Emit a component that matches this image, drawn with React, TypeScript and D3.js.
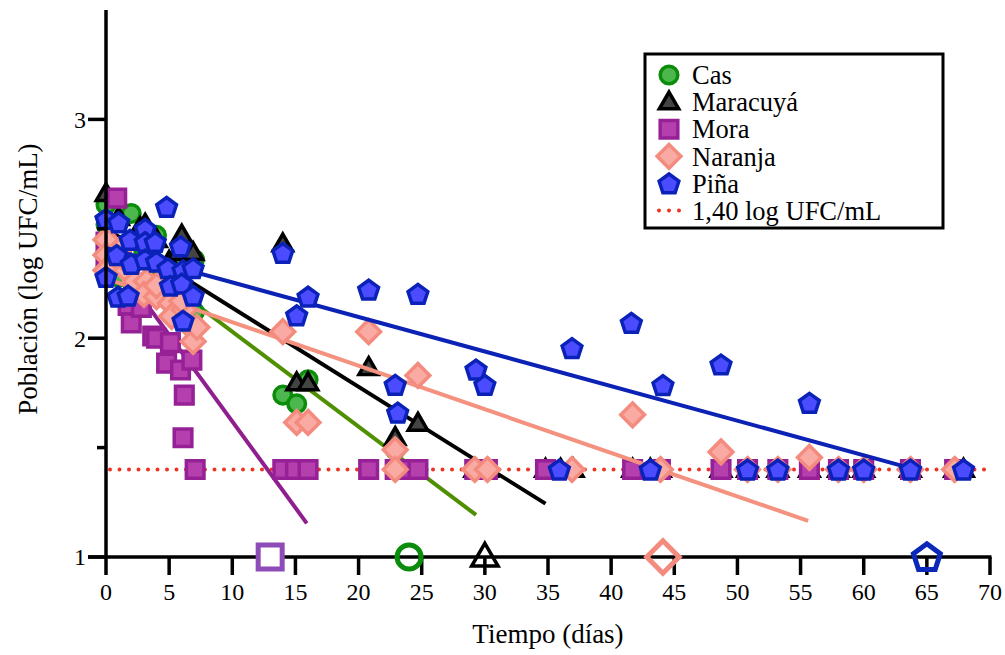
import { useEffect, useRef } from "react";
import * as d3 from "d3";

// series names (legend order)
const seriesNames = ["Cas", "Maracuyá", "Mora", "Naranja", "Piña"];

const casDays = [0, 0, 1, 2, 2, 3, 4, 5, 6, 7, 7, 14, 15.1, 16, 22.9, 23.8, 24.7, 29.2, 30.2];
const casVals = [2.61, 2.52, 2.28, 2.57, 2.26, 2.4, 2.47, 2.3, 2.36, 2.36, 2.12, 1.74, 1.7, 1.81, 1.49, 1.4, 1.4, 1.4, 1.4];

const maraDays = [0, 1, 2.7, 3.1, 4, 5, 5.7, 6, 6.9, 14, 15.1, 16, 20.8, 22.9, 24.7, 29.2, 30.2, 34.8, 36, 37, 41.7, 43.1, 43.9, 48.7, 50.8, 53.2, 55.7, 58, 60, 63.7, 67.2, 67.9];
const maraVals = [2.66, 2.55, 2.505, 2.52, 2.45, 2.35, 2.39, 2.47, 2.39, 2.43, 1.795, 1.795, 1.865, 1.545, 1.61, 1.4, 1.4, 1.4, 1.4, 1.4, 1.4, 1.4, 1.4, 1.4, 1.4, 1.4, 1.4, 1.4, 1.4, 1.4, 1.4, 1.4];

const moraDays = [0, 0, 0.85, 1, 1.75, 2, 2.8, 3.7, 4, 4.8, 5.1, 5.9, 6.1, 6.2, 6.8, 7.06, 14, 15, 16, 20.8, 22.9, 23.8, 24.7, 29.2, 30.2, 34.8, 41.7, 43.9, 48.7, 50.8, 53.2, 55.7, 58, 60, 63.7, 67.2];
const moraVals = [2.44, 2.35, 2.64, 2.4, 2.15, 2.07, 2.14, 2.01, 2.0, 1.886, 1.98, 1.855, 1.545, 1.74, 1.9, 1.4, 1.4, 1.4, 1.4, 1.4, 1.4, 1.4, 1.4, 1.4, 1.4, 1.4, 1.4, 1.4, 1.4, 1.4, 1.4, 1.4, 1.4, 1.4, 1.4, 1.4];

const naraDays = [0, 0, 0, 1, 1.6, 2, 2.3, 3.2, 3, 4, 4, 5.1, 5.2, 6.2, 6, 6.9, 6.9, 7.2, 14, 15.1, 16, 20.8, 22.9, 22.9, 24.7, 29.2, 30.2, 36.9, 41.7, 43.9, 48.7, 50.8, 53.2, 55.7, 58, 60, 63.7, 67.2];
const naraVals = [2.45, 2.38, 2.31, 2.4, 2.31, 2.33, 2.26, 2.26, 2.2, 2.19, 2.24, 2.16, 2.1, 2.13, 2.17, 2.04, 1.985, 2.05, 2.03, 1.615, 1.615, 2.03, 1.49, 1.4, 1.83, 1.4, 1.4, 1.4, 1.65, 1.4, 1.48, 1.4, 1.4, 1.455, 1.4, 1.4, 1.4, 1.4];

const pinaDays = [0, 0, 1, 0.85, 0.95, 1.9, 2, 1.75, 3.1, 3.1, 3.1, 3.9, 4, 4.8, 4.9, 5.1, 5.9, 6.1, 6, 6.1, 6.9, 6.9, 14, 15.1, 16, 20.8, 22.9, 23.1, 24.7, 29.3, 30, 35.9, 36.9, 41.6, 43.1, 44.1, 48.7, 50.8, 53.2, 55.7, 58, 60, 63.7, 67.9];
const pinaVals = [2.545, 2.28, 2.53, 2.38, 2.19, 2.45, 2.34, 2.195, 2.5, 2.44, 2.36, 2.44, 2.35, 2.6, 2.32, 2.24, 2.42, 2.31, 2.25, 2.08, 2.32, 2.195, 2.39, 2.105, 2.19, 2.222, 1.787, 1.66, 2.203, 1.857, 1.787, 1.4, 1.955, 2.07, 1.4, 1.786, 1.88, 1.4, 1.4, 1.705, 1.4, 1.4, 1.4, 1.4];

// linear fits: intercept, slope, last day of the line
const fitIntercept = [2.464, 2.5, 2.41, 2.272, 2.413];
const fitSlope = [-0.0434, -0.0361, -0.079, -0.0199, -0.0158];
const fitEnd = [29.3, 34.8, 15.9, 55.6, 63.2];

// estimated days to reach the limit (open markers on the x axis)
const shelfLife = [24.0, 30.0, 13.0, 44.1, 65.0];

const limitValue = 1.4;
const limitLabel = "1,40 log UFC/mL";
const xTicks = d3.range(0, 71, 5);
const yTicks = [1, 2, 3];
const yMinorTicks = [1.5, 2.5];

const allDays = [casDays, maraDays, moraDays, naraDays, pinaDays];
const allVals = [casVals, maraVals, moraVals, naraVals, pinaVals];

const shapes = ["circle", "triangle", "square", "diamond", "pentagon"];
const fills = ["#4cb74c", "#444444", "#b63fae", "#f9aaa2", "#4b4bff"];
const strokes = ["#0b8c0b", "#000000", "#962096", "#f48b7f", "#0b22b8"];
const lineColors = ["#4f8f00", "#000000", "#8f1f8f", "#f4917f", "#0b22b5"];
const openColors = ["#0b8c0b", "#000000", "#8e4cb8", "#f48b7f", "#0b28b8"];

const shapePath = (shape: string, r: number) => {
  if (shape === "circle") {
    return `M${-r},0A${r},${r} 0 1,0 ${r},0A${r},${r} 0 1,0 ${-r},0Z`;
  }
  if (shape === "square") return `M${-r},${-r}H${r}V${r}H${-r}Z`;
  if (shape === "diamond") {
    const d = r * 1.35;
    return `M0,${-d}L${d},0L0,${d}L${-d},0Z`;
  }
  if (shape === "triangle") {
    const h = r * 1.9;
    return `M0,${-h * 0.6}L${r * 1.1},${h * 0.4}L${-r * 1.1},${h * 0.4}Z`;
  }
  const pts = d3.range(5).map((i) => {
    const a = -Math.PI / 2 + (i * 2 * Math.PI) / 5;
    return [r * 1.18 * Math.cos(a), r * 1.18 * Math.sin(a) + 1];
  });
  return "M" + pts.map((p) => p.join(",")).join("L") + "Z";
};

const App = () => {
  const svgRef = useRef(null);

  useEffect(() => {
    const W = 1005;
    const H = 655;
    const FONT = "'Liberation Serif', 'Times New Roman', serif";

    const x = d3.scaleLinear().domain([0, 70]).range([106, 990]);
    const y = d3.scaleLinear().domain([1, 3.5]).range([557, 10]);

    const svg = d3.select(svgRef.current).attr("width", W).attr("height", H);
    svg.selectAll("*").remove();

    // limit line
    svg
      .append("line")
      .attr("x1", x(0) + 4)
      .attr("x2", x(70) - 4)
      .attr("y1", y(limitValue))
      .attr("y2", y(limitValue))
      .attr("stroke", "#ee3322")
      .attr("stroke-width", 4)
      .attr("stroke-linecap", "round")
      .attr("stroke-dasharray", "0 9.5");

    seriesNames.forEach((name, i) => {
      svg
        .append("line")
        .attr("x1", x(0))
        .attr("y1", y(fitIntercept[i]))
        .attr("x2", x(fitEnd[i]))
        .attr("y2", y(fitIntercept[i] + fitSlope[i] * fitEnd[i]))
        .attr("stroke", lineColors[i])
        .attr("stroke-width", 4);

      svg
        .append("g")
        .selectAll("path")
        .data(allDays[i].map((d, k) => [d, allVals[i][k]]))
        .enter()
        .append("path")
        .attr("d", shapePath(shapes[i], 8.8))
        .attr("transform", (d) => `translate(${x(d[0])},${y(d[1])})`)
        .attr("fill", fills[i])
        .attr("stroke", strokes[i])
        .attr("stroke-width", 3.5)
        .attr("stroke-linejoin", "miter");
    });

    // axes
    const axis = svg.append("g").attr("stroke", "#000").attr("stroke-width", 3.5);
    axis.append("line").attr("x1", x(0)).attr("x2", x(0)).attr("y1", y(3.5)).attr("y2", y(1));
    axis.append("line").attr("x1", x(0) - 18).attr("x2", x(70) + 1.5).attr("y1", y(1)).attr("y2", y(1));
    axis
      .selectAll(".xt")
      .data(xTicks)
      .enter()
      .append("line")
      .attr("x1", (d) => x(d))
      .attr("x2", (d) => x(d))
      .attr("y1", y(1))
      .attr("y2", y(1) + 18);
    axis
      .selectAll(".yt")
      .data(yTicks)
      .enter()
      .append("line")
      .attr("x1", x(0) - 18)
      .attr("x2", x(0))
      .attr("y1", (d) => y(d))
      .attr("y2", (d) => y(d));
    axis
      .selectAll(".ym")
      .data(yMinorTicks)
      .enter()
      .append("line")
      .attr("x1", x(0) - 9)
      .attr("x2", x(0))
      .attr("y1", (d) => y(d))
      .attr("y2", (d) => y(d));

    svg
      .append("g")
      .selectAll("text")
      .data(xTicks)
      .enter()
      .append("text")
      .attr("x", (d) => x(d))
      .attr("y", y(1) + 43)
      .attr("text-anchor", "middle")
      .attr("font-family", FONT)
      .attr("font-size", 24)
      .text((d) => d);

    svg
      .append("g")
      .selectAll("text")
      .data(yTicks)
      .enter()
      .append("text")
      .attr("x", x(0) - 20)
      .attr("y", (d) => y(d))
      .attr("dy", "0.35em")
      .attr("text-anchor", "end")
      .attr("font-family", FONT)
      .attr("font-size", 24)
      .text((d) => d);

    svg
      .append("text")
      .attr("x", 548)
      .attr("y", 643)
      .attr("text-anchor", "middle")
      .attr("font-family", FONT)
      .attr("font-size", 27)
      .text("Tiempo (días)");

    svg
      .append("text")
      .attr("transform", `translate(37,${y(2.27)}) rotate(-90)`)
      .attr("text-anchor", "middle")
      .attr("font-family", FONT)
      .attr("font-size", 27)
      .text("Población (log UFC/mL)");

    // open markers for estimated shelf life
    shelfLife.forEach((d, i) => {
      svg
        .append("path")
        .attr("d", shapePath(shapes[i], 12))
        .attr("transform", `translate(${x(d)},${y(1)})`)
        .attr("fill", shapes[i] === "square" ? "#fff" : "none")
        .attr("stroke", openColors[i])
        .attr("stroke-width", shapes[i] === "triangle" ? 3.5 : 5);
    });

    // legend
    const leg = svg.append("g");
    leg
      .append("rect")
      .attr("x", 645)
      .attr("y", 54)
      .attr("width", 298)
      .attr("height", 174)
      .attr("fill", "#fff")
      .attr("stroke", "#000")
      .attr("stroke-width", 3);
    const rowY = (i: number) => 75 + i * 27.1;
    seriesNames.forEach((name, i) => {
      leg
        .append("path")
        .attr("d", shapePath(shapes[i], 8.8))
        .attr("transform", `translate(669,${rowY(i)})`)
        .attr("fill", fills[i])
        .attr("stroke", strokes[i])
        .attr("stroke-width", 3.5);
      leg
        .append("text")
        .attr("x", 692)
        .attr("y", rowY(i))
        .attr("dy", "0.35em")
        .attr("font-family", FONT)
        .attr("font-size", 26.5)
        .text(name);
    });
    leg
      .append("line")
      .attr("x1", 659)
      .attr("x2", 680)
      .attr("y1", rowY(5))
      .attr("y2", rowY(5))
      .attr("stroke", "#ee3322")
      .attr("stroke-width", 4)
      .attr("stroke-linecap", "round")
      .attr("stroke-dasharray", "0 10");
    leg
      .append("text")
      .attr("x", 692)
      .attr("y", rowY(5))
      .attr("dy", "0.35em")
      .attr("font-family", FONT)
      .attr("font-size", 26.5)
      .text(limitLabel);
  }, []);

  return <svg ref={svgRef} style={{ position: "absolute", left: 0, top: 0 }} />;
};

export default App;
